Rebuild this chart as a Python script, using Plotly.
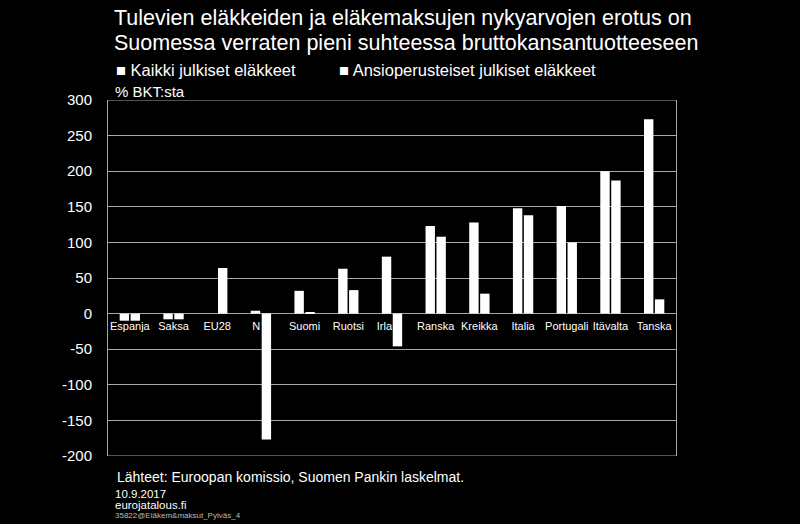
import plotly.graph_objects as go

countries = ["Espanja", "Saksa", "EU28", "Norja", "Suomi", "Ruotsi", "Irlanti",
             "Ranska", "Kreikka", "Italia", "Portugali", "Itävalta", "Tanska"]
# labels as they show in the chart: two of them are cut short where the bars hang below zero
country_labels = ["Espanja", "Saksa", "EU28", "N" + "\u00a0" * 3, "Suomi", "Ruotsi", "Irla" + "\u00a0" * 5,
                  "Ranska", "Kreikka", "Italia", "Portugali", "Itävalta", "Tanska"]
all_pensions = [-10, -8, None, 4, 32, 63, 80, 123, 128, 148, 151, 200, 273]
earnings_pensions = [-10, -8, 64, -177, 2, 33, -46, 108, 28, 138, 100, 187, 20]
series_names = ["Kaikki julkiset eläkkeet", "Ansioperusteiset julkiset eläkkeet"]
y_ticks = [-200, -150, -100, -50, 0, 50, 100, 150, 200, 250, 300]

FONT = "Liberation Sans, Arial, sans-serif"
GRID = "#a6a6a6"

fig = go.Figure()
for name, vals in zip(series_names, [all_pensions, earnings_pensions]):
    fig.add_bar(x=countries, y=vals, name=name, marker=dict(color="white", line_width=0))

fig.update_layout(
    width=800, height=524,
    paper_bgcolor="black", plot_bgcolor="black",
    margin=dict(l=108, r=124, t=100, b=68),
    barmode="group", bargap=0.5, bargroupgap=0.14,
    showlegend=False,
    font=dict(family=FONT, color="white"),
)
# category labels sit on the zero line, underneath the bars
fig.update_xaxes(
    anchor="free", position=200 / 500, layer="below traces",
    tickvals=countries, ticktext=country_labels,
    showline=False, showgrid=False, ticks="", ticklabelstandoff=4,
    tickfont=dict(size=11, color="white"),
)
fig.update_yaxes(
    range=[-200, 300], tickvals=y_ticks, ticktext=[str(v) for v in y_ticks],
    showgrid=True, gridcolor=GRID, gridwidth=1,
    zeroline=True, zerolinecolor=GRID, zerolinewidth=1,
    showline=True, mirror=True, linecolor=GRID, linewidth=1,
    ticks="", ticklabelstandoff=12, tickfont=dict(size=15, color="white"),
)
# top and bottom edges of the frame
fig.add_shape(type="line", xref="paper", yref="y", x0=0, x1=1, y0=300, y1=300, line=dict(color=GRID, width=1))
fig.add_shape(type="line", xref="paper", yref="y", x0=0, x1=1, y0=-200, y1=-200, line=dict(color=GRID, width=1))

title_lines = ["Tulevien eläkkeiden ja eläkemaksujen nykyarvojen erotus on",
               "Suomessa verraten pieni suhteessa bruttokansantuotteeseen"]
for i, line in enumerate(title_lines):
    fig.add_annotation(text=line, xref="paper", yref="paper", x=(112 - 108) / 568, y=1 + (100 - 18 - 25 * i) / 356,
                       xanchor="left", yanchor="middle", showarrow=False, font=dict(size=21.5, color="white"))

legend_x = [114, 337]
for name, lx in zip(series_names, legend_x):
    fig.add_annotation(text="■ " + name, xref="paper", yref="paper", x=(lx - 108) / 568, y=1 + 30 / 356,
                       xanchor="left", yanchor="middle", showarrow=False, font=dict(size=16.5, color="white"))

fig.add_annotation(text="% BKT:sta", xref="paper", yref="paper", x=(113 - 108) / 568, y=1 + 8 / 356,
                   xanchor="left", yanchor="middle", showarrow=False, font=dict(size=15, color="white"))

footer = [("Lähteet: Euroopan komissio, Suomen Pankin laskelmat.", 115, 477, 14, "white"),
          ("10.9.2017", 113, 494, 11.5, "white"),
          ("eurojatalous.fi", 113, 505, 11.5, "white"),
          ("35822@Eläkem&maksut_Pylväs_4", 113, 515, 8, "#bbbbbb")]
for text, fx, fy, size, color in footer:
    fig.add_annotation(text=text, xref="paper", yref="paper", x=(fx - 108) / 568, y=-(fy - 456) / 356,
                       xanchor="left", yanchor="middle", showarrow=False, font=dict(size=size, color=color))

fig.write_html("out.html", config={"displayModeBar": False},
               post_script="document.body.style.margin='0';")
